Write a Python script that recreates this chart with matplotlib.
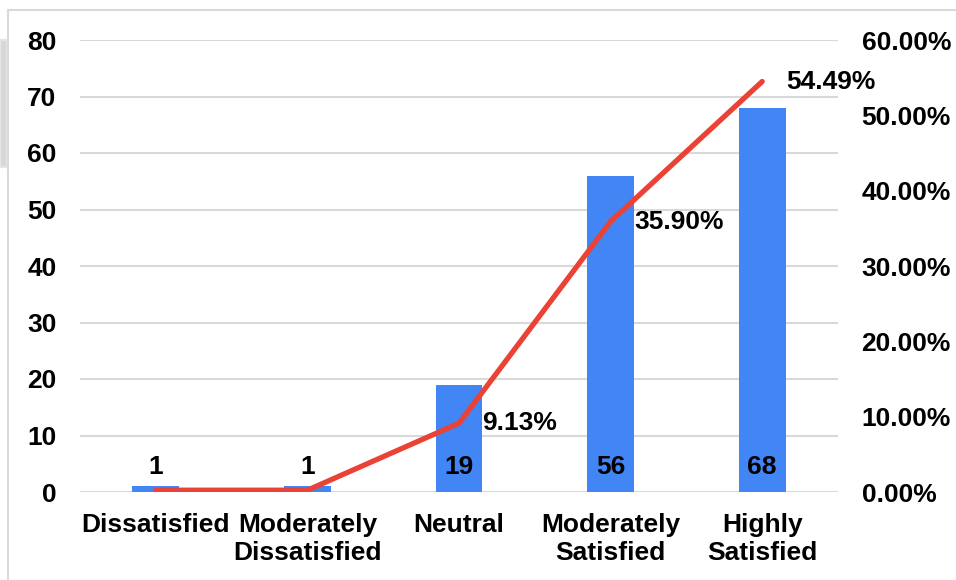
import matplotlib
matplotlib.use("Agg")
import matplotlib.pyplot as plt
from matplotlib.patches import Rectangle
from matplotlib.lines import Line2D
from matplotlib.ticker import FuncFormatter, MultipleLocator

categories = ["Dissatisfied", "Moderately\nDissatisfied", "Neutral",
              "Moderately\nSatisfied", "Highly\nSatisfied"]
counts = [1, 1, 19, 56, 68]
percents = [0.24, 0.24, 9.13, 35.90, 54.49]
labelled_percents = [False, False, True, True, True]

BAR = "#4285F4"
LINE = "#EA4335"
GRID = "#D9D9D9"
FS = 19

plt.rcParams["font.family"] = ["Liberation Sans", "DejaVu Sans"]
plt.rcParams["font.weight"] = "bold"

W, H = 956, 580
fig = plt.figure(figsize=(W / 100, H / 100), dpi=100)

# axes box in pixel terms: left 80, right 838, top 40, bottom 492
ax = fig.add_axes([80 / W, 1 - 492 / H, (838 - 80) / W, (492 - 40) / H])
ax2 = ax.twinx()

x = list(range(len(categories)))
ax.bar(x, counts, width=0.31, color=BAR, zorder=2)
ax.set_xlim(-0.5, len(categories) - 0.5)
ax.set_ylim(0, 80)
ax.yaxis.set_major_locator(MultipleLocator(10))
ax.grid(axis="y", color=GRID, linewidth=1.5, zorder=0)
ax.set_axisbelow(True)

for xi, c in zip(x, counts):
    ax.text(xi, 4.4, f"{c}", ha="center", va="center", fontsize=FS,
            fontweight="bold", color="black", zorder=4)

ax2.plot(x, percents, color=LINE, linewidth=3.8, solid_capstyle="round",
         solid_joinstyle="round", zorder=3)
ax2.set_ylim(0, 60)
ax2.yaxis.set_major_locator(MultipleLocator(10))
ax2.yaxis.set_major_formatter(FuncFormatter(lambda v, _: f"{v:.2f}%"))

for xi, p, show in zip(x, percents, labelled_percents):
    if show:
        ax2.annotate(f"{p:.2f}%", (xi, p), xytext=(17, 0),
                     textcoords="offset points", ha="left", va="center",
                     fontsize=FS, fontweight="bold", color="black")

ax.set_xticks(x)
ax.set_xticklabels(categories, fontsize=FS, fontweight="bold",
                   linespacing=1.22)
ax.tick_params(axis="x", length=0, pad=15)
ax.tick_params(axis="y", length=0, pad=17, labelsize=FS)
ax2.tick_params(axis="y", length=0, pad=17, labelsize=FS)
for lab in ax.get_yticklabels() + ax2.get_yticklabels():
    lab.set_fontweight("bold")

for a in (ax, ax2):
    for s in a.spines.values():
        s.set_visible(False)

# outer frame and left-edge tab
fig.add_artist(Line2D([8 / W, 8 / W], [0, 1 - 10 / H], transform=fig.transFigure,
                      color="#DADADA", linewidth=1.5))
fig.add_artist(Line2D([8 / W, 1], [1 - 10 / H, 1 - 10 / H], transform=fig.transFigure,
                      color="#DADADA", linewidth=1.5))
fig.add_artist(Rectangle((0, 1 - 167 / H), 7 / W, 127 / H, transform=fig.transFigure,
                         facecolor="#D8D8D8", edgecolor="#E6E6E6", linewidth=1.5))

fig.savefig("out.png", dpi=100)
